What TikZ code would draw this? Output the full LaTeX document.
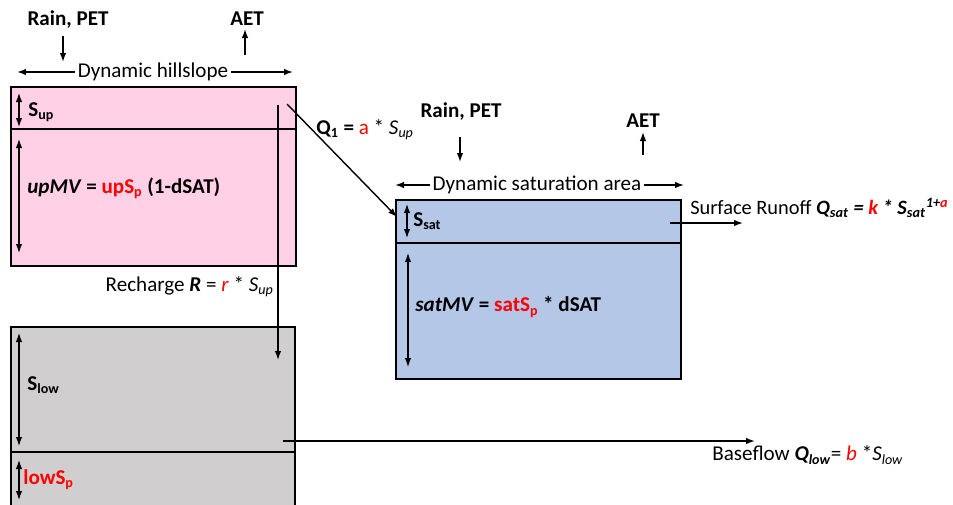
\documentclass[tikz,border=0pt]{standalone}
\usepackage{fontspec}
\setmainfont{Carlito}
\usepackage{xcolor}
\definecolor{hillpink}{RGB}{255,208,230}
\definecolor{satblue}{RGB}{180,199,231}
\definecolor{lowgray}{RGB}{208,206,206}
\usetikzlibrary{arrows.meta,positioning}

\begin{document}
\begin{tikzpicture}[x=0.02cm,y=-0.02cm,>={Latex[length=1.8mm,width=1.3mm]},font=\fontsize{12}{14}\selectfont]
  \tikzstyle{store}=[draw=black,line width=1.1pt]
  \tikzstyle{lbl}=[inner sep=0pt,anchor=west]
  \tikzstyle{head}=[inner sep=0pt,font=\fontsize{12}{14}\selectfont\bfseries]
  \tikzstyle{flow}=[->,line width=0.8pt]
  \tikzstyle{span}=[<->,line width=0.7pt]
  \useasboundingbox (0,0) rectangle (953,504);

  % stores
  \draw[store,fill=hillpink] (11,87) rectangle (296,266);
  \draw[store] (11,129) -- (296,129);
  \draw[store,fill=lowgray] (11,327) rectangle (295,508);
  \draw[store] (11,452) -- (295,452);
  \draw[store,fill=satblue] (396,200) rectangle (681,379);
  \draw[store] (396,243) -- (681,243);

  % hillslope
  \node[head] (rainh) at (68,20) {Rain, PET};
  \node[head] (aeth) at (247,19) {AET};
  \node[inner sep=1.5pt] (dynhill) at (153,72) {Dynamic hillslope};
  \coordinate (rainhA) at (63,36);
  \coordinate (rainhB) at (63,62);
  \coordinate (aethA) at (245,55);
  \coordinate (aethB) at (245,29);
  \coordinate (hillL) at (17,72);
  \coordinate (hillR) at (293,72);
  \draw[flow] (rainhA) -- (rainhB);
  \draw[flow] (aethA) -- (aethB);
  \draw[flow] (dynhill.west) -- (hillL);
  \draw[flow] (dynhill.east) -- (hillR);

  \coordinate (supA) at (19,93);
  \coordinate (supB) at (19,127);
  \coordinate (upmvA) at (19,139);
  \coordinate (upmvB) at (19,253);
  \draw[span] (supA) -- (supB);
  \draw[span] (upmvA) -- (upmvB);
  \node[lbl] (sup) at (28,112) {\textbf{S\textsubscript{up}}};
  \node[lbl] (upmv) at (27,188) {\textbf{\textit{upMV} = {\color{red}upS\textsubscript{p}} (1-dSAT)}};

  % lower store
  \coordinate (slowA) at (19,333);
  \coordinate (slowB) at (19,446);
  \coordinate (lowspA) at (19,460);
  \coordinate (lowspB) at (19,500);
  \draw[span] (slowA) -- (slowB);
  \draw[span] (lowspA) -- (lowspB);
  \node[lbl] (slow) at (27,385) {\textbf{S\textsubscript{low}}};
  \node[lbl] (lowsp) at (23,480) {\textbf{\color{red}lowS\textsubscript{p}}};

  % saturation area
  \node[head] (rains) at (461,112) {Rain, PET};
  \node[head] (aets) at (643,121) {AET};
  \node[inner sep=1.5pt] (dynsat) at (537,185) {Dynamic saturation area};
  \coordinate (rainsA) at (460,137);
  \coordinate (rainsB) at (460,162);
  \coordinate (aetsA) at (643,155);
  \coordinate (aetsB) at (643,132);
  \coordinate (satL) at (395,185);
  \coordinate (satR) at (684,185);
  \draw[flow] (rainsA) -- (rainsB);
  \draw[flow] (aetsA) -- (aetsB);
  \draw[flow] (dynsat.west) -- (satL);
  \draw[flow] (dynsat.east) -- (satR);

  \coordinate (ssatA) at (407,204);
  \coordinate (ssatB) at (407,238);
  \coordinate (satmvA) at (408,253);
  \coordinate (satmvB) at (408,367);
  \draw[span] (ssatA) -- (ssatB);
  \draw[span] (satmvA) -- (satmvB);
  \node[lbl] (ssat) at (413,221) {\textbf{S\textsubscript{sat}}};
  \node[lbl] (satmv) at (415,307) {\textbf{\textit{satMV} = {\color{red}satS\textsubscript{p}} * dSAT}};

  % fluxes
  \coordinate (q1A) at (287,104);
  \coordinate (q1B) at (397,217);
  \coordinate (rechA) at (278,105);
  \coordinate (rechB) at (278,360);
  \coordinate (baseA) at (283,441);
  \coordinate (baseB) at (755,441);
  \coordinate (surfA) at (670,223);
  \coordinate (surfB) at (743,223);
  \draw[flow] (q1A) -- (q1B);
  \draw[flow] (rechA) -- (rechB);
  \draw[flow] (baseA) -- (baseB);
  \draw[flow] (surfA) -- (surfB);
  \node[lbl] (q1) at (316,130) {\textbf{Q\textsubscript{1} =} {\color{red}a} * \textit{S\textsubscript{up}}};
  \node[lbl,anchor=east] (rech) at (274,287) {Recharge \textbf{\textit{R}} = {\color{red}\textit{r}} * \textit{S\textsubscript{up}}};
  \node[lbl] (base) at (712,455) {Baseflow \textbf{\textit{Q\textsubscript{low}}}= {\color{red}\textit{b}} *\textit{S\textsubscript{low}}};
  \node[lbl,anchor=east,font=\fontsize{11.6}{14}\selectfont] (surf) at (949,208) {Surface Runoff \textbf{\textit{Q\textsubscript{sat} = {\color{red}k} * S\textsubscript{sat}\textsuperscript{1+{\color{red}a}}}}};
\end{tikzpicture}
\end{document}
